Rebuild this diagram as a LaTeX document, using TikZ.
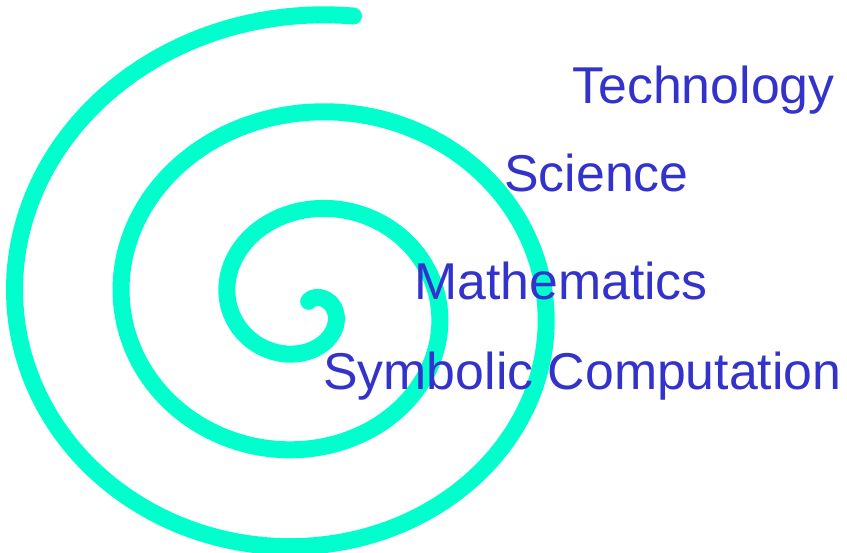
\documentclass[tikz,border=0pt]{standalone}
\usepackage{fontspec}
\setmainfont{Liberation Sans}
\definecolor{spiralcyan}{RGB}{0,255,204}
\definecolor{labelblue}{RGB}{51,51,204}
\tikzset{
  spiralline/.style={draw=spiralcyan, line width=17pt, line cap=round, line join=round},
  label/.style={text=labelblue, font=\fontsize{51.8pt}{60pt}\selectfont, inner sep=0pt, anchor=base}
}
\begin{document}
\begin{tikzpicture}[x=1pt,y=-1pt]
\useasboundingbox (0,0) rectangle (847,553);
\draw[spiralline] plot[domain=-1.2:17.43, samples=500, variable=\t]
  ({307+(25+17.0*\t)*cos(\t r)}, {305+0.9*(25+17.19*\t)*sin(\t r)});
\node[label] (tech) at (703.5,103.5) {Technology};
\node[label] (sci) at (596.5,192) {Science};
\node[label] (math) at (561,299.5) {Mathematics};
\node[label] (symb) at (582.5,390) {Symbolic Computation};
\end{tikzpicture}
\end{document}
